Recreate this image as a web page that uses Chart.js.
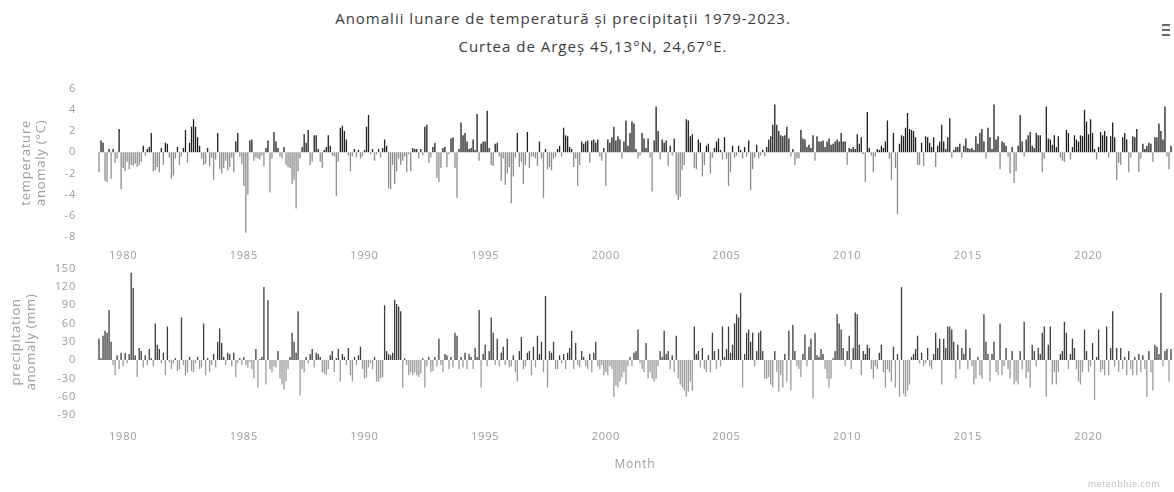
<!DOCTYPE html>
<html>
<head>
<meta charset="utf-8">
<script src="https://cdn.jsdelivr.net/npm/chart.js@4.4.0/dist/chart.umd.min.js"></script>
<style>
    body { margin: 0; background: #fff; width: 1174px; height: 492px; overflow: hidden; position: relative; font-family: 'Open Sans', 'Noto Sans', sans-serif; }
    .title { position: absolute; white-space: nowrap; transform: translate(-50%, -50%); color: #3a3a3a; font-size: 15px; letter-spacing: 1px; }
    .panel { position: absolute; left: 0; }
    #credit { position: absolute; right: 14px; top: 477px; font-size: 9px; color: #bbb; letter-spacing: 0.5px; }
    #menu { position: absolute; left: 1162px; top: 24px; width: 8px; }
    #menu div { height: 2px; background: #666; margin-bottom: 3px; }
</style>
</head>
<body>
<div class="title" style="left:563px; top:18px;">Anomalii lunare de temperatură și precipitații 1979-2023.</div>
<div class="title" style="left:593px; top:46px;">Curtea de Argeș 45,13°N, 24,67°E.</div>
<div id="menu"><div></div><div></div><div></div></div>
<div class="panel" style="top:60px;"><canvas id="tempChart" width="1174" height="210"></canvas></div>
<div class="panel" style="top:240px;"><canvas id="precChart" width="1174" height="252"></canvas></div>
<div id="credit">meteoblue.com</div>
<script>
const firstYear = 1979;
const yearTicks = [1980, 1985, 1990, 1995, 2000, 2005, 2010, 2015, 2020];

// monthly temperature anomaly (°C), Jan 1979 .. Jun 2023
const temperature = [
    -1.9, 1.1, 0.9, -2.7, -2.8, 0.3, -2.5, 0.3, -1.0, -0.6, 2.2, -3.5,
    -1.5, -1.8, -0.9, -1.6, -1.2, -1.3, -1.1, -1.4, -1.2, -0.9, 0.6, -0.3,
    0.3, 0.5, 1.8, -1.8, -1.7, -1.4, -1.9, 0.4, -1.2, 0.9, 0.8, -0.5,
    -2.5, -2.2, -0.6, 0.5, -1.2, -0.4, 0.4, 2.1, -1.0, 0.9, 2.4, 3.1,
    2.4, 1.4, 0.6, -0.6, -1.2, -1.1, 0.4, -1.3, -0.5, -2.6, -0.7, 1.8,
    -1.6, -2.0, -1.5, -0.8, -1.7, -1.4, -0.5, -1.9, 1.0, 1.8, -0.4, -1.1,
    -3.2, -7.6, -4.0, 1.1, 1.2, -0.8, -0.5, -0.6, -0.7, -0.3, -1.3, 0.4,
    1.1, -3.8, -0.6, 1.9, 1.0, 0.4, -0.4, -0.6, 0.5, -1.2, -1.4, -1.5,
    -3.0, -2.6, -5.3, -1.8, -0.6, 0.5, 1.7, 0.9, 2.1, -1.2, -0.9, 1.6,
    1.6, 0.3, -0.9, -1.5, 0.2, 0.5, 1.6, 0.6, -0.3, -0.4, -4.1, -0.9,
    2.3, 2.5, 2.0, 1.2, -0.3, -1.8, -0.4, 0.3, -0.5, 0.2, -0.6, -0.4,
    0.2, 2.4, 3.5, -0.2, 0.3, -0.8, -0.2, 0.3, -0.5, 0.4, 1.2, 0.6,
    -3.4, -3.5, -1.2, -3.0, -1.8, -0.6, -1.2, -0.8, -0.4, -1.9, -0.2, -1.8,
    0.4, 0.3, 0.3, -0.6, 0.3, -0.3, 2.4, 2.6, -1.0, -0.5, 0.5, 0.9,
    -2.4, -2.8, -1.5, 0.4, 0.5, -1.4, -0.2, 1.3, 1.4, -1.5, -4.3, 0.3,
    2.8, 1.6, 1.8, 1.0, 0.3, 0.4, 1.2, 0.2, 3.6, -0.8, 0.8, 1.0,
    1.0, 3.9, 0.4, -1.2, -1.3, 0.8, 0.9, -0.4, -2.7, -0.6, -3.1, -2.0,
    -1.4, -4.8, -2.3, -0.5, 1.8, -1.4, -0.9, -3.0, -1.2, 1.9, -1.5, -0.4,
    -0.4, -0.6, -1.3, 1.0, -0.6, -4.3, 0.3, -1.6, -1.4, -1.7, -0.6, -0.4,
    0.3, 0.6, -0.4, 2.3, 1.6, 1.5, 0.5, 0.3, -1.4, -0.6, -3.2, -1.2,
    1.0, 0.8, 1.0, 1.1, -1.0, 1.1, 1.2, 0.9, 1.2, -0.4, -0.8, 0.4,
    -3.2, 1.2, 0.9, 1.4, 2.4, 1.1, 1.5, 1.2, -0.6, 1.0, 3.0, 0.6,
    1.8, 2.9, 2.7, 0.3, -0.6, -0.3, 1.8, 1.3, 0.4, 1.3, -0.5, -3.7,
    1.1, 4.3, 2.0, -0.7, 1.2, 0.9, 1.1, -1.3, 0.6, -0.3, 1.3, -4.0,
    -4.5, -4.2, -1.7, -1.2, 3.1, 3.0, 1.5, 1.7, -1.5, -1.6, 1.2, 0.9,
    -2.3, -1.2, 0.6, 0.8, -2.0, -0.5, 0.4, 1.0, 1.3, 0.2, -0.7, 1.4,
    -0.6, -3.2, -1.9, 0.6, -0.5, -0.3, 0.6, 0.2, -0.6, 0.5, -0.4, 1.1,
    -3.6, -1.6, -0.5, 0.7, -0.6, -0.3, 0.2, -0.4, 0.5, 1.2, 1.5, 2.6,
    4.5, 2.6, 2.0, 1.6, 1.5, 1.6, 2.4, 1.3, -0.4, 0.3, -1.2, -0.6,
    -0.6, 2.1, 1.3, 1.2, 0.5, 0.7, 0.4, 1.6, -0.8, 1.5, 1.0, 1.0,
    1.1, 0.5, 1.0, 1.3, 0.7, 0.8, 1.0, 1.2, 1.0, 1.8, 1.0, 1.0,
    -1.2, 0.4, 0.3, 0.5, 0.3, 1.7, 0.8, 1.4, -0.2, -2.8, 3.8, 0.4,
    -0.3, -1.9, -0.4, 0.3, 0.2, 0.6, 0.4, 1.0, 3.0, -0.6, -2.6, 1.8,
    -1.5, -5.8, 0.8, 1.6, 1.5, 2.3, 3.7, 2.2, 2.1, 2.0, 1.4, -1.2,
    -1.2, 0.9, -1.3, 1.5, 1.4, 0.9, 0.5, 1.4, -1.4, 0.6, 1.0, 2.6,
    1.0, 0.3, 1.4, 3.2, -0.5, 0.2, 0.5, 0.5, 0.8, -0.5, 0.6, 1.3,
    0.4, 0.3, 0.4, 0.2, 1.5, 0.8, 1.8, 2.2, 1.0, -0.6, 2.3, 1.4,
    0.3, 4.5, 1.2, 1.5, -1.6, 1.0, 0.9, 0.6, -0.4, -2.0, 0.5, -2.9,
    -1.8, 0.6, 3.5, 1.0, -0.4, 1.2, 1.6, 1.9, 0.6, 0.4, 1.8, 1.6,
    1.6, -1.9, -0.6, 4.3, 1.3, 1.2, 0.7, 1.6, 0.5, 1.5, -0.5, -0.8,
    -0.9, 2.1, 1.8, -0.7, 0.5, 1.6, 1.2, 1.0, 1.6, 1.5, 4.0, 2.9,
    1.7, 3.1, 1.8, 0.3, -0.7, 0.5, 1.9, 1.6, 2.0, 1.5, -0.5, 1.5,
    2.8, 1.4, -2.6, -1.0, -1.2, 1.4, 1.8, 1.2, -1.9, -0.5, 1.5, 1.4,
    2.2, -1.9, -0.6, 0.8, 0.3, 0.6, 0.9, 0.8, -0.9, 1.4, 1.4, 2.7,
    2.0, 1.2, 4.3, -0.4, -1.6, 0.6
];

// monthly precipitation anomaly (mm), Jan 1979 .. Jun 2023
const precipitation = [
    35, 3, 40, 48, 45, 82, 30, -8, -25, 8, -15, 12,
    -10, 12, -5, 10, 143, 118, 8, -28, 20, 15, -12, 8,
    -8, 18, 3, -10, 60, 25, 18, -5, 12, -25, 55, -3,
    -15, -5, 3, -18, -15, 70, -8, -25, -20, 5, -18, -20,
    -5, 5, -15, -12, 60, -25, 3, -20, -8, 10, -12, 30,
    52, 28, 5, -8, 12, 10, -10, 12, -28, -5, 3, -8,
    5, -8, -12, -3, -15, -30, 18, -45, 2, 5, 120, -40,
    98, -15, -20, -10, -12, 15, -30, -40, -48, -35, -15, 5,
    45, 30, 12, 80, -58, -15, -20, 5, -5, 10, 18, -12,
    12, 10, 5, -20, -22, -25, -15, 8, 15, -20, 3, 18,
    -35, 10, 5, -8, 20, -25, -35, 5, -8, 8, 22, -15,
    -30, -28, -12, -5, -15, 5, -35, -35, -30, -28, 90, 15,
    10, 8, 12, 99, 92, 88, 80, -45, 3, -8, -25, -20,
    -25, -20, -25, -28, -22, 3, -45, -10, 5, -20, -18, 5,
    -10, 35, -8, -20, 10, 8, -15, 5, -12, 45, 40, -15,
    5, -12, 12, -15, 10, 5, -15, 20, 5, 82, -45, 10,
    25, -10, 15, 70, 45, -8, 35, -10, 12, 22, -8, 35,
    -12, -10, 8, -20, -35, 15, 38, -15, -10, 12, 15, -25,
    22, -12, 40, 10, 30, -20, 105, -45, 15, 12, 30, -15,
    -15, 8, -5, 10, -15, 12, 20, 48, -15, 28, -8, -12,
    15, 5, -10, -15, 10, -20, 12, 30, -10, -15, -8, -25,
    -20, -25, -10, -15, -60, -42, -45, -35, -28, -20, -40, -10,
    5, -10, 12, 15, 50, -5, -15, -20, 28, -30, -20, -30,
    -35, -30, -10, 15, 5, 48, 10, 15, -15, 8, -20, 40,
    -30, -40, -45, -50, -60, -52, -35, -50, 55, 10, 15, -12,
    20, -15, -20, 8, -20, 45, 15, -15, 18, -10, 55, 5,
    18, 55, 12, 25, 60, 75, 70, 110, -45, 10, 45, 50,
    30, 45, -10, 15, 45, 48, 15, -30, -30, -28, -40, -45,
    15, -20, -52, -25, -45, 10, -35, 48, -50, 58, 15, -10,
    -15, -28, 10, 42, -10, 22, 35, -62, 45, 8, 5, 18,
    10, -15, -30, -45, -30, 3, 15, 75, 60, 50, 20, -10,
    15, 40, -15, 20, 78, 75, 25, -25, 15, 10, 25, 20,
    -15, -30, -10, -15, 12, 25, -20, -45, -15, -20, -35, 22,
    -45, 10, -60, 120, -55, -60, -50, -40, 5, 10, 18, 40,
    -5, 12, -10, -5, 20, -10, -15, 10, 45, 20, 35, -40,
    35, 20, 55, 55, 50, 30, -30, 25, -15, 20, 10, 50,
    -15, 20, -10, -40, -30, 5, -25, -30, 75, 30, 10, -35,
    10, 30, -20, -25, 60, -25, -10, 20, -15, -30, 15, -40,
    -35, -40, 15, -15, 63, -30, -20, -45, 25, 15, -10, 20,
    10, 45, 55, -60, 25, 55, -40, -20, -40, -20, 10, 15,
    63, 45, -15, 10, 35, 20, -15, -35, -40, -20, 50, 15,
    -20, -10, 28, -65, 5, 50, -20, -15, -25, 55, -25, 20,
    80, -10, 20, -20, 20, -15, 5, -25, 15, -15, -25, 5,
    -25, 10, -20, 8, -15, -60, 15, -20, -50, 25, 22, 10,
    110, -10, 15, 18, -35, 18
];

const monthLabels = [];
for (let i = 0; i < temperature.length; i++) {
    const year = firstYear + Math.floor(i / 12);
    monthLabels.push(year + '-' + String(i % 12 + 1).padStart(2, '0'));
}

const tickColor = '#9a9a9a';
const fontFamily = "'Open Sans', 'Noto Sans', sans-serif";

function yearTick(value, index) {
    const label = monthLabels[index];
    const year = parseInt(label.slice(0, 4), 10);
    if (label.endsWith('-01') && yearTicks.includes(year)) {
        return String(year);
    }
    return null;
}

// a little tracking on all axis text
const spacedText = {
    id: 'spacedText',
    beforeDraw(chart) {
        chart.ctx.letterSpacing = '0.8px';
    }
};

function makeChart(canvasId, values, colors, yOpts) {
    const ctx = document.getElementById(canvasId).getContext('2d');
    return new Chart(ctx, {
        type: 'bar',
        data: {
            labels: monthLabels,
            datasets: [{
                data: values,
                backgroundColor: values.map(v => v >= 0 ? colors.pos : colors.neg),
                categoryPercentage: 1,
                barPercentage: 0.65,
                borderWidth: 0
            }]
        },
        plugins: [spacedText],
        options: {
            responsive: false,
            animation: false,
            layout: { padding: { top: yOpts.padTop, left: 0, right: 2, bottom: 0 } },
            plugins: {
                legend: { display: false },
                tooltip: { enabled: false }
            },
            scales: {
                x: {
                    grid: { display: false, drawTicks: false },
                    border: { display: false },
                    ticks: {
                        autoSkip: false,
                        maxRotation: 0,
                        minRotation: 0,
                        padding: yOpts.xPad,
                        color: tickColor,
                        font: { family: fontFamily, size: 11 },
                        callback: yearTick
                    },
                    title: {
                        display: yOpts.xTitle,
                        text: 'Month',
                        color: tickColor,
                        font: { family: fontFamily, size: 12 },
                        padding: { top: 0, bottom: 20 }
                    },
                    afterFit: axis => { axis.height = yOpts.xHeight; }
                },
                y: {
                    min: yOpts.min,
                    max: yOpts.max,
                    grid: { display: false, drawTicks: false },
                    border: { display: false },
                    ticks: {
                        stepSize: yOpts.step,
                        padding: 22,
                        color: tickColor,
                        font: { family: fontFamily, size: 11 }
                    },
                    title: {
                        display: true,
                        text: yOpts.title,
                        color: tickColor,
                        font: { family: fontFamily, size: 13 },
                        padding: { top: yOpts.titlePad, bottom: 0 }
                    },
                    afterFit: axis => { axis.width = 98; }
                }
            }
        }
    });
}

makeChart('tempChart', temperature, { pos: '#1e1e1e', neg: '#8c8c8c' }, {
    min: -8, max: 6, step: 2,
    title: ['temperature', 'anomaly (°C)'],
    titlePad: 18, padTop: 25, xPad: 12, xHeight: 33, xTitle: false
});

makeChart('precChart', precipitation, { pos: '#3c3c3c', neg: '#9a9a9a' }, {
    min: -90, max: 150, step: 30,
    title: ['precipitation', 'anomaly (mm)'],
    titlePad: 8, padTop: 23, xPad: 15, xHeight: 77, xTitle: true
});
</script>
</body>
</html>
